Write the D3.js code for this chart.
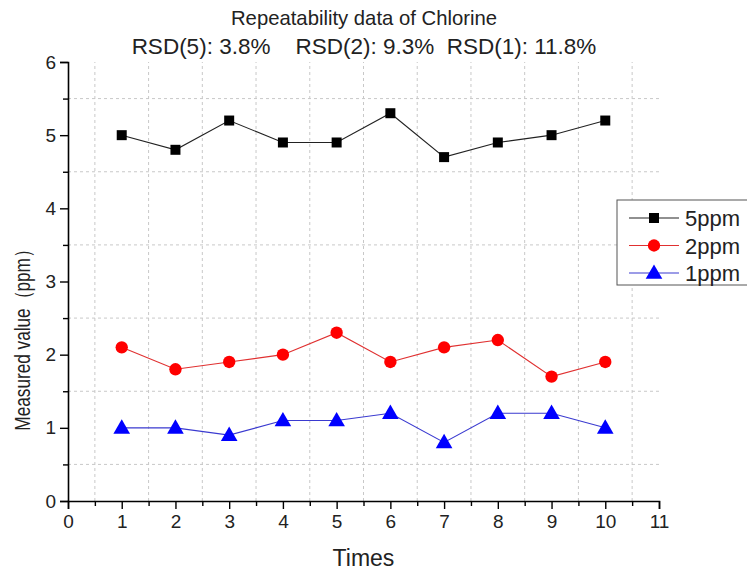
<!DOCTYPE html>
<html><head><meta charset="utf-8">
<script src="https://cdn.jsdelivr.net/npm/d3@7"></script>
<style>body{margin:0;background:#fff}svg{display:block;font-family:"Liberation Sans",Arial,sans-serif}</style>
</head><body>
<svg id="c" width="747" height="572"></svg>
<script>
const times = [1,2,3,4,5,6,7,8,9,10];
const s5ppm = [5.0,4.8,5.2,4.9,4.9,5.3,4.7,4.9,5.0,5.2];
const s2ppm = [2.1,1.8,1.9,2.0,2.3,1.9,2.1,2.2,1.7,1.9];
const s1ppm = [1.0,1.0,0.9,1.1,1.1,1.2,0.8,1.2,1.2,1.0];
const seriesNames = ["5ppm","2ppm","1ppm"];
const xTicks = [0,1,2,3,4,5,6,7,8,9,10,11];
const yTicks = [0,1,2,3,4,5,6];
const gridX = [0.5,1.5,2.5,3.5,4.5,5.5,6.5,7.5,8.5,9.5,10.5];
const gridY = [0.5,1.5,2.5,3.5,4.5,5.5];
const titleLines = ["Repeatability data of Chlorine","RSD(5): 3.8%    RSD(2): 9.3%  RSD(1): 11.8%"];

const svg = d3.select("#c");
const L=68, R=659, T=62, B=501;
const x = d3.scaleLinear().domain([0,11]).range([L,R]);
const y = d3.scaleLinear().domain([0,6]).range([B,T]);

// grid
const g = svg.append("g");
g.selectAll(".gx").data(gridX).join("line")
  .attr("x1",d=>x(d)).attr("x2",d=>x(d)).attr("y1",y(0)).attr("y2",y(6))
  .attr("stroke","#c8c8c8").attr("stroke-dasharray","3,3");
g.selectAll(".gy").data(gridY).join("line")
  .attr("x1",x(0)).attr("x2",x(11)).attr("y1",d=>y(d)).attr("y2",d=>y(d))
  .attr("stroke","#c8c8c8").attr("stroke-dasharray","3,3");

// axes
svg.append("g").attr("transform",`translate(0,${B})`)
  .call(d3.axisBottom(x).tickValues(xTicks).tickFormat(d3.format("d")).tickSize(8).tickPadding(6));
svg.append("g").attr("transform",`translate(0,${B})`)
  .call(d3.axisBottom(x).tickValues(gridX).tickFormat("").tickSize(5))
  .select(".domain").remove();
svg.append("g").attr("transform",`translate(${L},0)`)
  .call(d3.axisLeft(y).tickValues(yTicks).tickFormat(d3.format("d")).tickSize(8).tickPadding(4));
svg.append("g").attr("transform",`translate(${L},0)`)
  .call(d3.axisLeft(y).tickValues(gridY).tickFormat("").tickSize(5))
  .select(".domain").remove();
svg.selectAll(".domain").attr("stroke","#000").attr("stroke-width",1.6);
svg.selectAll(".tick line").attr("stroke","#000").attr("stroke-width",1.4);
svg.selectAll(".tick text").attr("font-size",19).attr("fill","#222")
  .attr("font-family","'Liberation Sans',Arial,sans-serif");

// labels
svg.append("text").attr("x",(L+R)/2).attr("y",566).attr("text-anchor","middle")
  .attr("font-size",23).attr("fill","#222").text("Times");
svg.append("text").attr("transform",`translate(30,336) rotate(-90) scale(0.8,1)`).attr("text-anchor","middle")
  .attr("font-size",21.5).attr("fill","#222").text("Measured value（ppm）");
svg.append("text").attr("x",364).attr("y",25).attr("text-anchor","middle")
  .attr("font-size",20.3).attr("fill","#222").text(titleLines[0]);
svg.append("text").attr("x",364).attr("y",54).attr("text-anchor","middle")
  .attr("font-size",22.5).attr("fill","#222").style("white-space","pre").text(titleLines[1]);

// series
const data = [s5ppm,s2ppm,s1ppm];
const lineCol = ["#222","#e03030","#3a3ad0"];
const markCol = ["#000","#ff0000","#0000ff"];
const symbols = [d3.symbolSquare,d3.symbolCircle,d3.symbolTriangle];
const sizes = [100,120,120];
const line = d3.line().x((d,i)=>x(times[i])).y(d=>y(d));
data.forEach((vals,k)=>{
  svg.append("path").datum(vals).attr("d",line).attr("fill","none")
    .attr("stroke",lineCol[k]).attr("stroke-width",1.1);
  svg.selectAll(".m"+k).data(vals).join("path")
    .attr("transform",(d,i)=>`translate(${x(times[i])},${y(d)+(k===2?1:0)})`)
    .attr("d",d3.symbol().type(symbols[k]).size(sizes[k])).attr("fill",markCol[k]);
});

// legend
const lg = svg.append("g");
lg.append("rect").attr("x",617).attr("y",200).attr("width",140).attr("height",85)
  .attr("fill","#fff").attr("stroke","#555").attr("stroke-width",1);
seriesNames.forEach((n,k)=>{
  const yy = 218 + k*27.5;
  lg.append("line").attr("x1",629).attr("x2",679).attr("y1",yy).attr("y2",yy)
    .attr("stroke",lineCol[k]).attr("stroke-width",1.1);
  lg.append("path").attr("transform",`translate(654,${yy+(k===2?1:0)})`)
    .attr("d",d3.symbol().type(symbols[k]).size(sizes[k])).attr("fill",markCol[k]);
  lg.append("text").attr("x",685).attr("y",yy+8).attr("font-size",22).attr("fill","#222").text(n);
});
</script>
</body></html>
